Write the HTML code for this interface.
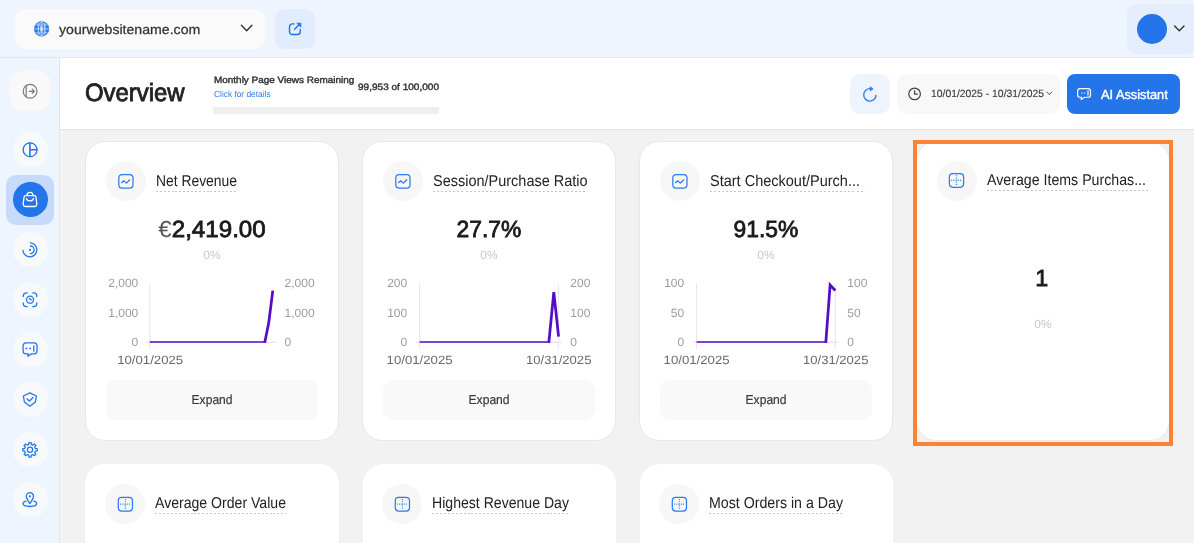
<!DOCTYPE html>
<html lang="en">
<head>
<meta charset="utf-8">
<title>Overview</title>
<style>
*{box-sizing:border-box;margin:0;padding:0}
html,body{width:1194px;height:543px;overflow:hidden}
body{position:relative;background:#f2f2f2;font-family:"Liberation Sans",sans-serif;color:#222;-webkit-font-smoothing:antialiased;text-rendering:geometricPrecision}
.abs{position:absolute}
.t{position:absolute;white-space:nowrap;line-height:1;transform-origin:0 50%;transform:scaleX(var(--s,1))}
.m{-webkit-text-stroke:0.4px currentColor}
#topbar{left:0;top:0;width:1194px;height:58px;background:#eff5fe;border-bottom:1px solid #e5e6e9}
#sidebar{left:0;top:58px;width:60px;height:485px;background:#eff5fe;border-right:1px solid #e3e4e8}
#header{left:60px;top:58px;width:1134px;height:72px;background:#fff;border-bottom:1px solid #e3e3e3}
.site{left:15px;top:9px;width:250px;height:40px;border-radius:10px;background:#fafafa}
.ext{left:275px;top:9px;width:40px;height:40px;border-radius:10px;background:#e1ecfd}
.user{left:1127px;top:4px;width:72px;height:50px;border-radius:10px;background:#e4eefd}
.avatar{left:1136.7px;top:13.9px;width:30px;height:30px;border-radius:50%;background:#2474ea}
.sbtn{left:12.5px;width:35px;height:35px;border-radius:50%;background:#f8f9fa}
.card{position:absolute;width:254px;height:300px;background:#fff;border:1px solid #e8e8e8;border-radius:20px}
.ico{position:absolute;left:20px;top:19.5px;width:40px;height:40px;border-radius:50%;background:#f7f7f7}
.ttl{position:absolute;left:70px;top:31.3px;height:19.2px;font-size:15.7px;line-height:18px;white-space:nowrap;color:#222;transform-origin:0 50%;transform:scaleX(var(--s,1));background:repeating-linear-gradient(90deg,#c6c6c6 0 2.2px,transparent 2.2px 4.4px) 0 100%/100% 1px no-repeat}
.val{position:absolute;left:0;width:252px;top:73.8px;text-align:center;font-size:23.3px;line-height:28px;color:#1a1a1a;white-space:nowrap;transform:scaleX(var(--s,1));-webkit-text-stroke:0.8px currentColor}
.val .cur{-webkit-text-stroke:0;color:#555}
.pct{position:absolute;left:0;width:252px;top:106.4px;text-align:center;font-size:12px;line-height:14px;color:#c8c8c8}
.exp{position:absolute;left:20px;top:238px;width:212px;height:40px;border-radius:10px;background:#f9f9f9;text-align:center;font-size:13px;line-height:39px;color:#3a3a3a}
.exp span{display:inline-block;transform:scaleX(var(--s,1))}
.r2{border:0;width:253.5px}
.r2 .ico{left:19.7px;top:20.2px}
.r2 .ttl{left:69.8px;top:31.2px}
svg{position:absolute;overflow:visible}
svg text{font-family:"Liberation Sans",sans-serif;text-rendering:geometricPrecision}
</style>
</head>
<body>
<div id="topbar" class="abs"></div>
<div id="sidebar" class="abs"></div>
<div id="header" class="abs"></div>

<!-- top bar -->
<div class="abs site"></div>
<div class="t" style="left:59.3px;top:22.5px;font-size:13.3px;color:#333;-webkit-text-stroke:0.25px #333;--s:1.0622">yourwebsitename.com</div>
<div class="abs ext"></div>
<div class="abs user"></div>
<div class="abs avatar"></div>

<!-- header -->
<div class="t" style="left:84.5px;top:80.9px;font-size:25px;color:#222;-webkit-text-stroke:0.85px #222;--s:0.9560">Overview</div>
<div class="t m" style="left:213.8px;top:76.4px;font-size:9.3px;color:#333;--s:1.0702">Monthly Page Views Remaining</div>
<div class="t" style="left:213.8px;top:90.2px;font-size:8.7px;color:#2b7cf0;--s:0.9608">Click for details</div>
<div class="t m" style="left:358.4px;top:82.9px;font-size:9.3px;color:#333;--s:1.0805">99,953 of 100,000</div>
<div class="abs" style="left:213.4px;top:107.3px;width:225.6px;height:6.6px;background:#efefef"></div>

<div class="abs" style="left:850px;top:74px;width:40px;height:40px;border-radius:10px;background:#eef4fe"></div>
<div class="abs" style="left:897px;top:74px;width:163px;height:40px;border-radius:10px;background:#f8f8f8"></div>
<div class="t" style="left:930.6px;top:89.1px;font-size:10.5px;color:#383838;-webkit-text-stroke:0.12px #383838;--s:0.9874">10/01/2025 - 10/31/2025</div>
<div class="abs" style="left:1067px;top:74px;width:113px;height:40px;border-radius:8px;background:#2474ea"></div>
<div class="t m" style="left:1101px;top:87.5px;font-size:13px;color:#fff;--s:0.9820">AI Assistant</div>

<!-- sidebar -->
<div class="abs" style="left:10px;top:71px;width:40px;height:40px;border-radius:13px;background:#f9f9fa"></div>
<div class="abs sbtn" style="top:132px"></div>
<div class="abs" style="left:6px;top:175px;width:48px;height:49.5px;border-radius:10px;background:#c6dbfb"></div>
<div class="abs sbtn" style="top:182px;background:#2474ea"></div>
<div class="abs sbtn" style="top:232px"></div>
<div class="abs sbtn" style="top:282px"></div>
<div class="abs sbtn" style="top:332px"></div>
<div class="abs sbtn" style="top:382px"></div>
<div class="abs sbtn" style="top:432px"></div>
<div class="abs sbtn" style="top:482px"></div>

<!-- cards row 1 -->
<div class="card" style="left:85px;top:140.5px">
  <div class="ico"></div>
  <div class="ttl" style="--s:0.8845">Net Revenue</div>
  <div class="val" style="--s:1.0361"><span class="cur">€</span>2,419.00</div>
  <div class="pct">0%</div>
  <div class="exp"><span style="-webkit-text-stroke:0.2px #3a3a3a;--s:0.9298">Expand</span></div>
</div>
<div class="card" style="left:362px;top:140.5px">
  <div class="ico"></div>
  <div class="ttl" style="--s:0.9233">Session/Purchase Ratio</div>
  <div class="val" style="--s:0.9809">27.7%</div>
  <div class="pct">0%</div>
  <div class="exp"><span style="-webkit-text-stroke:0.2px #3a3a3a;--s:0.9298">Expand</span></div>
</div>
<div class="card" style="left:639px;top:140.5px">
  <div class="ico"></div>
  <div class="ttl" style="width:calc(155.6px / var(--s));--s:0.9249">Start Checkout/Purch...</div>
  <div class="val" style="--s:0.9809">91.5%</div>
  <div class="pct">0%</div>
  <div class="exp"><span style="-webkit-text-stroke:0.2px #3a3a3a;--s:0.9298">Expand</span></div>
</div>
<div class="card" style="left:916px;top:140.5px">
  <div class="ico" style="top:19px"></div>
  <div class="ttl" style="top:30.3px;width:calc(163.3px / var(--s));--s:0.9042">Average Items Purchas...</div>
  <div class="val" style="top:122.2px;left:-1.2px;--s:1">1</div>
  <div class="pct" style="top:175px">0%</div>
</div>
<div class="abs" style="left:913px;top:140px;width:260px;height:306px;border:4px solid #f98533"></div>

<!-- cards row 2 -->
<div class="card r2" style="left:85.3px;top:463.6px">
  <div class="ico"></div>
  <div class="ttl" style="--s:0.8977">Average Order Value</div>
</div>
<div class="card r2" style="left:362.5px;top:463.6px">
  <div class="ico"></div>
  <div class="ttl" style="--s:0.8977">Highest Revenue Day</div>
</div>
<div class="card r2" style="left:639.5px;top:463.6px">
  <div class="ico"></div>
  <div class="ttl" style="--s:0.9041">Most Orders in a Day</div>
</div>

<!-- icon + chart overlay -->
<svg id="ov" width="1194" height="543" viewBox="0 0 1194 543" style="left:0;top:0" fill="none" stroke-linecap="round" stroke-linejoin="round">
  <!-- globe -->
  <g id="globe">
    <circle cx="41.6" cy="28.9" r="7.6" fill="#2a78ee"/>
    <g stroke="#fff" stroke-width="1" opacity="0.62">
      <ellipse cx="41.6" cy="28.9" rx="3.3" ry="6.7"/>
      <path d="M34.8 28.9h13.6M41.6 22.1v13.6M36.1 25h11M36.1 32.8h11M38.3 22.9v12M44.9 22.9v12" />
    </g>
    <rect x="40" y="26.3" width="3.2" height="5.2" fill="#fff" opacity="0.55"/>
  </g>
  <!-- chevrons -->
  <path d="M241.4 25.3l5.25 5.5 5.25-5.5" stroke="#333" stroke-width="1.4"/>
  <path d="M1174.6 25.9l4.7 4.8 4.7-4.8" stroke="#333" stroke-width="1.4"/>
  <path d="M1046.8 92l2.5 2.5 2.5-2.5" stroke="#444" stroke-width="1"/>
  <!-- external link -->
  <g stroke="#1f6feb" stroke-width="1.35">
    <path d="M294 23.9h-1.7a2.8 2.8 0 0 0-2.8 2.8v5a2.8 2.8 0 0 0 2.8 2.8h5.2a2.8 2.8 0 0 0 2.8-2.8v-2.2"/>
    <path d="M294.6 29.2l5.4-5.4"/>
    <path d="M297.2 23.2h3.6v3.6z" fill="#1f6feb" stroke-width="0.8"/>
  </g>
  <!-- sidebar: collapse -->
  <g stroke="#7a7a7a" stroke-width="1.2">
    <circle cx="30.1" cy="91.3" r="6.9"/>
    <path d="M26.2 85.7v11.2M29.2 91.3h5M32.3 89.2l2.1 2.1-2.1 2.1"/>
  </g>
  <!-- sidebar: pie -->
  <g stroke="#2474ea" stroke-width="1.3">
    <circle cx="30.1" cy="149.75" r="6.95"/>
    <path d="M29.9 143v13.5M30 149.8h6.9" stroke-width="1.6"/>
  </g>
  <!-- sidebar: bag (active) -->
  <g stroke="#fff" stroke-width="1.3">
    <path d="M25.9 195.6h8.2a1.9 1.9 0 0 1 1.9 1.7l.8 6.6a2.3 2.3 0 0 1-2.3 2.6h-9a2.3 2.3 0 0 1-2.3-2.6l.8-6.6a1.9 1.9 0 0 1 1.9-1.7z"/>
    <path d="M27 195.4a3 3 0 0 1 6 0"/>
    <path d="M26.5 198.3a3.5 2.6 0 0 0 7 0"/>
  </g>
  <!-- sidebar: radar -->
  <g stroke="#2474ea" stroke-width="1.3">
    <path d="M30.4 242.8a7 7 0 1 1-7.5 7.6"/>
    <path d="M30.4 246a3.8 3.8 0 0 1 0 7.6"/>
    <circle cx="29.9" cy="249.8" r="1.1" fill="#2474ea" stroke="none"/>
  </g>
  <!-- sidebar: scan -->
  <g stroke="#2474ea" stroke-width="1.3">
    <path d="M23.2 296.6v-.4a3.4 3.4 0 0 1 3.4-3.4h.6M32.8 292.8h.6a3.4 3.4 0 0 1 3.4 3.4v.4M36.8 302.9v.4a3.4 3.4 0 0 1-3.4 3.4h-.6M27.2 306.7h-.6a3.4 3.4 0 0 1-3.4-3.4v-.4"/>
    <circle cx="30" cy="299.7" r="3.5"/>
    <path d="M29.2 298.4l2.2 1.5" stroke-width="1.2"/>
  </g>
  <!-- sidebar: chat -->
  <g stroke="#2474ea" stroke-width="1.3">
    <path d="M26 342.9h8.1a2.9 2.9 0 0 1 2.9 2.9v5.2a2.9 2.9 0 0 1-2.9 2.9h-2.6l-3.6 2.3l.3-2.3h-2.2a2.9 2.9 0 0 1-2.9-2.9v-5.2a2.9 2.9 0 0 1 2.9-2.9z"/>
    <path d="M33.8 345.9v5.3"/>
    <circle cx="26.4" cy="348.4" r="0.9" fill="#2474ea" stroke="none"/>
    <circle cx="30.2" cy="348.4" r="0.9" fill="#2474ea" stroke="none"/>
  </g>
  <!-- sidebar: shield -->
  <g stroke="#2474ea" stroke-width="1.3">
    <path d="M29.9 392.9l6.5 3.1l-1 6l-5.5 4.2l-5.5-4.2l-1-6z"/>
    <path d="M27 398.9l2.5 2.1l3.5-3.5"/>
  </g>
  <!-- sidebar: gear -->
  <g stroke="#2474ea" stroke-width="1.25">
    <path d="M28.72 444.45 L28.86 442.59 L31.14 442.59 L31.28 444.45 L32.87 445.11 L34.29 443.89 L35.91 445.51 L34.69 446.93 L35.35 448.52 L37.21 448.66 L37.21 450.94 L35.35 451.08 L34.69 452.67 L35.91 454.09 L34.29 455.71 L32.87 454.49 L31.28 455.15 L31.14 457.01 L28.86 457.01 L28.72 455.15 L27.13 454.49 L25.71 455.71 L24.09 454.09 L25.31 452.67 L24.65 451.08 L22.79 450.94 L22.79 448.66 L24.65 448.52 L25.31 446.93 L24.09 445.51 L25.71 443.89 L27.13 445.11Z"/>
    <circle cx="30" cy="449.8" r="2.6"/>
  </g>
  <!-- sidebar: map pin -->
  <g stroke="#2474ea" stroke-width="1.3">
    <path d="M29.9 503.6c-1.1-2-3.6-4.6-3.6-7.3a3.6 3.6 0 0 1 7.2 0c0 2.7-2.5 5.3-3.6 7.3z"/>
    <circle cx="29.9" cy="496.3" r="1.1" fill="#2474ea" stroke="none"/>
    <path d="M26 501.1c-1.9 .5-2.9 1.4-2.9 2.5c0 1.7 3 2.9 6.8 2.9s6.8-1.2 6.8-2.9c0-1.1-1-2-2.9-2.5"/>
  </g>
  <!-- refresh -->
  <g stroke="#2b7cf0" stroke-width="1.35">
    <path d="M876.1 95.3A6.2 6.2 0 1 1 870.3 88.7"/>
    <path d="M870.5 87l2.6 1.9l-2.6 1.9z" fill="#2b7cf0" stroke-width="0.8"/>
  </g>
  <!-- clock -->
  <g stroke="#444" stroke-width="1.25">
    <circle cx="914.6" cy="93.9" r="5.8"/>
    <path d="M914.6 90.6v3.6h2.7"/>
  </g>
  <!-- AI chat icon -->
  <g stroke="#fff" stroke-width="1.15">
    <path d="M1080 88.6h8.2a2.3 2.3 0 0 1 2.3 2.3v4a2.3 2.3 0 0 1-2.3 2.3h-3.7l-3.3 2.2l.3-2.2h-1.5a2.3 2.3 0 0 1-2.3-2.3v-4a2.3 2.3 0 0 1 2.3-2.3z"/>
    <path d="M1088 90.7v4.4" stroke-width="1.4" opacity="0.85"/>
    <circle cx="1081.9" cy="93" r="0.75" fill="#fff" stroke="none" opacity="0.85"/>
    <circle cx="1084.7" cy="93" r="0.75" fill="#fff" stroke="none" opacity="0.85"/>
  </g>
</svg>

<!-- charts + card icons -->
<svg id="ch" width="1194" height="543" viewBox="0 0 1194 543" style="left:0;top:0" fill="none" stroke-linecap="round" stroke-linejoin="round">
  <g>
  <path d="M149.8 284.4V348.8" stroke="#e6e6e9" stroke-width="1"/>
  <path d="M146.5 342.1H275.5" stroke="#e2d9f3" stroke-width="1"/>
  <path d="M149.8 341.98H265.2" stroke="#560bc6" stroke-width="1.7" stroke-linecap="butt"/>
  <path d="M264.7 342.85 L268.7 323.1 L272.8 290.7" stroke="#560bc6" stroke-width="2.75" stroke-linecap="butt" stroke-linejoin="miter"/>
  <text x="138.3" y="287.4" text-anchor="end" font-size="12" fill="#9c9c9c" stroke="none">2,000</text>
  <text x="284.6" y="287.4" font-size="12" fill="#9c9c9c" stroke="none">2,000</text>
  <text x="138.3" y="316.6" text-anchor="end" font-size="12" fill="#9c9c9c" stroke="none">1,000</text>
  <text x="284.6" y="316.6" font-size="12" fill="#9c9c9c" stroke="none">1,000</text>
  <text x="138.3" y="346.2" text-anchor="end" font-size="12" fill="#9c9c9c" stroke="none">0</text>
  <text x="284.6" y="346.2" font-size="12" fill="#9c9c9c" stroke="none">0</text>
  <text x="150.2" y="363.8" text-anchor="middle" font-size="12" textLength="66" lengthAdjust="spacingAndGlyphs" fill="#6a6a6a" stroke="none">10/01/2025</text>
  </g>
  <g>
  <path d="M419.6 284.4V348.8" stroke="#e6e6e9" stroke-width="1"/>
  <path d="M558.3 284.4V348.8" stroke="#e6e6e9" stroke-width="1"/>
  <path d="M416.3 342.1H561.1" stroke="#e2d9f3" stroke-width="1"/>
  <path d="M419.6 341.98H549.3" stroke="#560bc6" stroke-width="1.7" stroke-linecap="butt"/>
  <path d="M548.8 342.85 L553.8 292.2 L558.6 336.7" stroke="#560bc6" stroke-width="2.75" stroke-linecap="butt" stroke-linejoin="miter"/>
  <text x="407.2" y="287.4" text-anchor="end" font-size="12" fill="#9c9c9c" stroke="none">200</text>
  <text x="570.3" y="287.4" font-size="12" fill="#9c9c9c" stroke="none">200</text>
  <text x="407.2" y="316.6" text-anchor="end" font-size="12" fill="#9c9c9c" stroke="none">100</text>
  <text x="570.3" y="316.6" font-size="12" fill="#9c9c9c" stroke="none">100</text>
  <text x="407.2" y="346.2" text-anchor="end" font-size="12" fill="#9c9c9c" stroke="none">0</text>
  <text x="570.3" y="346.2" font-size="12" fill="#9c9c9c" stroke="none">0</text>
  <text x="419.6" y="363.8" text-anchor="middle" font-size="12" textLength="66" lengthAdjust="spacingAndGlyphs" fill="#6a6a6a" stroke="none">10/01/2025</text>
  <text x="558.7" y="363.8" text-anchor="middle" font-size="12" textLength="65.4" lengthAdjust="spacingAndGlyphs" fill="#6a6a6a" stroke="none">10/31/2025</text>
  </g>
  <g>
  <path d="M696.6 284.4V348.8" stroke="#e6e6e9" stroke-width="1"/>
  <path d="M835.3 284.4V348.8" stroke="#e6e6e9" stroke-width="1"/>
  <path d="M693.3 342.1H838.1" stroke="#e2d9f3" stroke-width="1"/>
  <path d="M696.6 341.98H826.3" stroke="#560bc6" stroke-width="1.7" stroke-linecap="butt"/>
  <path d="M825.8 342.85 L830.1 285 L835.3 290.5" stroke="#560bc6" stroke-width="2.75" stroke-linecap="butt" stroke-linejoin="miter"/>
  <text x="684.2" y="287.4" text-anchor="end" font-size="12" fill="#9c9c9c" stroke="none">100</text>
  <text x="847.3" y="287.4" font-size="12" fill="#9c9c9c" stroke="none">100</text>
  <text x="684.2" y="316.6" text-anchor="end" font-size="12" fill="#9c9c9c" stroke="none">50</text>
  <text x="847.3" y="316.6" font-size="12" fill="#9c9c9c" stroke="none">50</text>
  <text x="684.2" y="346.2" text-anchor="end" font-size="12" fill="#9c9c9c" stroke="none">0</text>
  <text x="847.3" y="346.2" font-size="12" fill="#9c9c9c" stroke="none">0</text>
  <text x="696.6" y="363.8" text-anchor="middle" font-size="12" textLength="66" lengthAdjust="spacingAndGlyphs" fill="#6a6a6a" stroke="none">10/01/2025</text>
  <text x="835.7" y="363.8" text-anchor="middle" font-size="12" textLength="65.4" lengthAdjust="spacingAndGlyphs" fill="#6a6a6a" stroke="none">10/31/2025</text>
  </g>
  <g stroke="#2b7cf0" stroke-width="1.25"><rect x="118.8" y="174.50" width="14.2" height="13.7" rx="3.4"/><path d="M121.5 182.70l2.2-2l2.7 2.4l3.3-3.3"/></g>
  <g stroke="#2b7cf0" stroke-width="1.25"><rect x="395.8" y="174.50" width="14.2" height="13.7" rx="3.4"/><path d="M398.5 182.70l2.2-2l2.7 2.4l3.3-3.3"/></g>
  <g stroke="#2b7cf0" stroke-width="1.25"><rect x="672.8" y="174.50" width="14.2" height="13.7" rx="3.4"/><path d="M675.5 182.70l2.2-2l2.7 2.4l3.3-3.3"/></g>
  <g stroke="#2b7cf0" stroke-width="1.25"><rect x="949.4" y="173.55" width="14.2" height="13.7" rx="3.4"/><path d="M956.5 175.20v10.6M951.2 180.40h10.6" stroke-width="1.2" stroke-dasharray="1 1.2" stroke-linecap="butt"/></g>
  <g stroke="#2b7cf0" stroke-width="1.25"><rect x="118.3" y="497.35" width="14.2" height="13.7" rx="3.4"/><path d="M125.4 499.00v10.6M120.1 504.20h10.6" stroke-width="1.2" stroke-dasharray="1 1.2" stroke-linecap="butt"/></g>
  <g stroke="#2b7cf0" stroke-width="1.25"><rect x="395.3" y="497.35" width="14.2" height="13.7" rx="3.4"/><path d="M402.4 499.00v10.6M397.1 504.20h10.6" stroke-width="1.2" stroke-dasharray="1 1.2" stroke-linecap="butt"/></g>
  <g stroke="#2b7cf0" stroke-width="1.25"><rect x="672.3" y="497.35" width="14.2" height="13.7" rx="3.4"/><path d="M679.4 499.00v10.6M674.1 504.20h10.6" stroke-width="1.2" stroke-dasharray="1 1.2" stroke-linecap="butt"/></g>
</svg>
</body>
</html>
